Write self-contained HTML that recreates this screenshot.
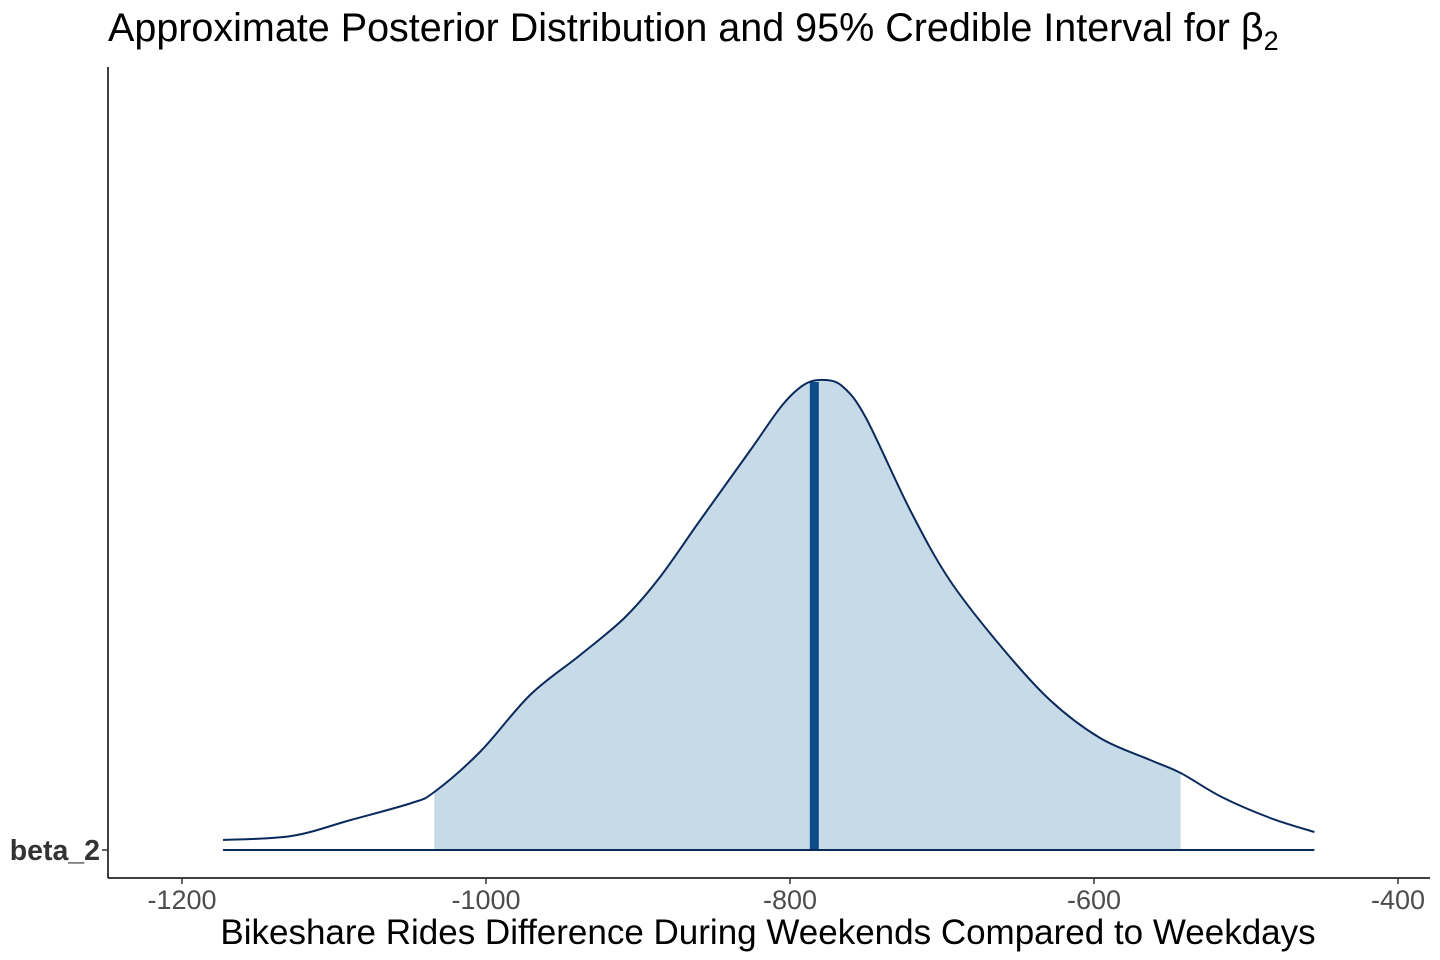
<!DOCTYPE html>
<html><head><meta charset="utf-8"><style>
html,body{margin:0;padding:0;background:#fff;}
svg{display:block;font-family:"Liberation Sans",Arial,sans-serif;}
</style></head><body>
<svg id="chart" width="1440" height="960" viewBox="0 0 1440 960">
<text x="108" y="41" font-size="39.5" fill="#000">Approximate Posterior Distribution and 95% Credible Interval for β<tspan font-size="27" dy="9">2</tspan></text>
<defs><clipPath id="ci"><rect id="ciRect" x="0" y="0" width="0" height="960"/></clipPath></defs>
<g id="plot"></g>
<line x1="108" y1="67" x2="108" y2="878" stroke="#000" stroke-width="1.5"/>
<line x1="108" y1="878" x2="1430" y2="878" stroke="#000" stroke-width="1.5"/>
<line x1="102" y1="850" x2="108" y2="850" stroke="#333" stroke-width="1.5"/>
<text x="100" y="860" font-size="28.5" font-weight="bold" fill="#333" text-anchor="end">beta_2</text>
<g id="xticks"></g>
<text x="768" y="944" font-size="35" text-anchor="middle" fill="#000">Bikeshare Rides Difference During Weekends Compared to Weekdays</text>
</svg>
<script>
const xTicks = [-1200, -1000, -800, -600, -400];
const densX = [-1173,-1128,-1089,-1049,-1034,-1004,-971,-938,-909,-886,-859,-826,-805,-790,-777,-765,-750,-721,-695,-662,-629,-596,-563,-543,-516,-484,-455];
const densY = [10,14,30,47,58,98,155,195,232,272,330,400,445,466,470,463,432,340,270,205,150,112,90,77,53,32,18];
const ciLow = -1034;
const ciHigh = -543;
const median = -784;

const NS = 'http://www.w3.org/2000/svg';
const xs = v => 790 + (v + 800) * 1.52;
const ys = d => 850 - d;
const plot = document.getElementById('plot');
function mk(tag, attrs){ const e=document.createElementNS(NS,tag); for(const k in attrs) e.setAttribute(k,attrs[k]); return e; }

const pts = densX.map((v,i)=>[xs(v), ys(densY[i])]);
function smooth(p){
  let d = `M${p[0][0]},${p[0][1]}`;
  for(let i=0;i<p.length-1;i++){
    const p0=p[i-1]||p[i], p1=p[i], p2=p[i+1], p3=p[i+2]||p2;
    const c1=[p1[0]+(p2[0]-p0[0])/6, p1[1]+(p2[1]-p0[1])/6];
    const c2=[p2[0]-(p3[0]-p1[0])/6, p2[1]-(p3[1]-p1[1])/6];
    d += ` C${c1[0]},${c1[1]} ${c2[0]},${c2[1]} ${p2[0]},${p2[1]}`;
  }
  return d;
}
const curve = smooth(pts);
const r = document.getElementById('ciRect');
r.setAttribute('x', xs(ciLow)); r.setAttribute('width', xs(ciHigh)-xs(ciLow));

const area = mk('path',{d: curve + ` L${pts[pts.length-1][0]},850 L${pts[0][0]},850 Z`, fill:'#c6dae8', 'clip-path':'url(#ci)'});


plot.appendChild(area);

const med = mk('line',{x1:xs(median), x2:xs(median), y1:850, y2:ys(468), stroke:'#0d4a8a', 'stroke-width':9});


plot.appendChild(med);

const line = mk('path',{d: curve, fill:'none', stroke:'#0b2a5c', 'stroke-width':2});


plot.appendChild(line);

const base = mk('line',{x1:pts[0][0], x2:pts[pts.length-1][0], y1:850, y2:850, stroke:'#0b2a5c', 'stroke-width':2});


plot.appendChild(base);

const xt = document.getElementById('xticks');
xTicks.forEach(t=>{
  const tk = mk('line',{x1:xs(t), x2:xs(t), y1:878, y2:884, stroke:'#333', 'stroke-width':1.5});
  
  
  xt.appendChild(tk);
  const lb = mk('text',{x:xs(t), y:909, 'font-size':27, fill:'#4d4d4d', 'text-anchor':'middle'});
  lb.textContent = t;
  
  
  xt.appendChild(lb);
});
</script>
</body></html>
